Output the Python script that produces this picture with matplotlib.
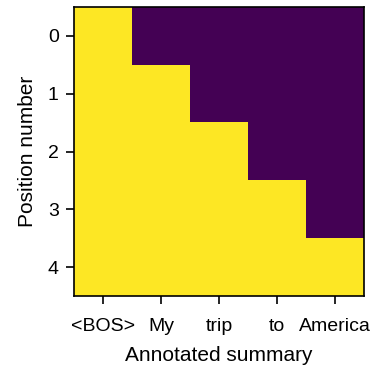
import numpy as np
import matplotlib
matplotlib.use("Agg")
import matplotlib.pyplot as plt

plt.rcParams["font.family"] = ["Liberation Sans", "DejaVu Sans"]

tokens = ["<BOS>", "My", "trip", "to", "America"]
positions = [0, 1, 2, 3, 4]
# causal mask: 1 where token is visible at that position
mask = [
    [1, 0, 0, 0, 0],
    [1, 1, 0, 0, 0],
    [1, 1, 1, 0, 0],
    [1, 1, 1, 1, 0],
    [1, 1, 1, 1, 1],
]

fig = plt.figure(figsize=(3.74, 3.70), dpi=100)
ax = fig.add_axes([0.198, 0.2, 0.775, 0.781])
ax.imshow(np.array(mask), cmap="viridis", aspect="auto", interpolation="nearest")
ax.set_xticks(range(len(tokens)))
ax.set_xticklabels(tokens)
ax.set_yticks(positions)
ax.set_yticklabels([str(p) for p in positions])
ax.tick_params(axis="x", labelsize=14, length=6, width=1.2, pad=10)
ax.tick_params(axis="y", labelsize=14, length=6, width=1.2, pad=5)
ax.set_xlabel("Annotated summary", fontsize=15, labelpad=8)
ax.set_ylabel("Position number", fontsize=15, labelpad=8)
for s in ax.spines.values():
    s.set_linewidth(1.2)

fig.savefig("out.png", dpi=100)
